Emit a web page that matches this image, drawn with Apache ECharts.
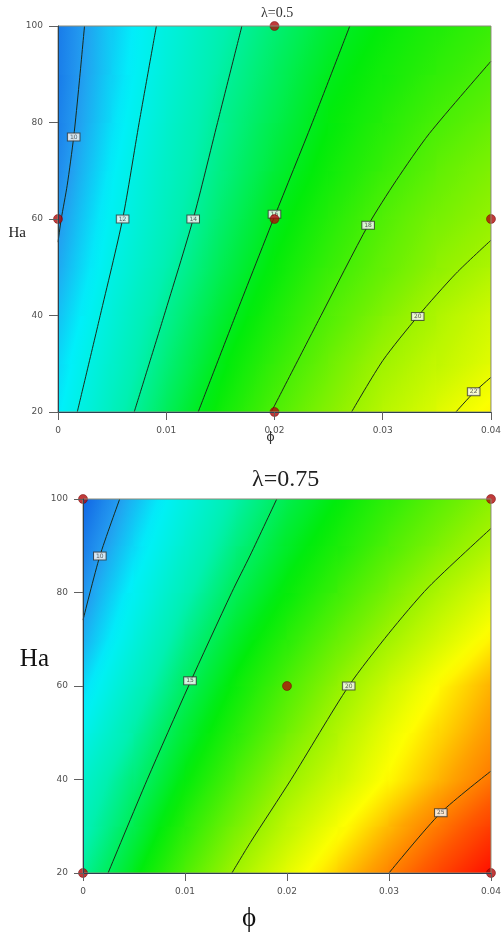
<!DOCTYPE html>
<html>
<head>
<meta charset="utf-8">
<script src="https://cdn.jsdelivr.net/npm/echarts@6/dist/echarts.min.js"></script>
<style>
  html, body { margin: 0; padding: 0; background: #fff; }
  #chart { width: 504px; height: 936px; }
</style>
</head>
<body>
<div id="chart"></div>
<script>
// Response surface of Nu over nanoparticle fraction (phi) and Hartmann number (Ha)
const phiCols = [0, 0.005, 0.01, 0.015, 0.02, 0.025, 0.03, 0.035, 0.04];
const haRows = [20, 30, 40, 50, 60, 70, 80, 90, 100];
const phiTicks = [0, 0.01, 0.02, 0.03, 0.04];
const haTicks = [20, 40, 60, 80, 100];

// surface values, one row per Ha (20 -> 100), one column per phi (0 -> 0.04)
const nuLambda050 = [
  [11.3, 13.2, 15.0, 16.6, 18.1, 19.4, 20.6, 21.6, 22.7],
  [11.0, 12.8, 14.5, 16.1, 17.5, 18.8, 20.1, 20.9, 21.7],
  [10.6, 12.4, 14.1, 15.6, 16.9, 18.2, 19.3, 20.4, 21.3],
  [10.2, 12.0, 13.6, 15.1, 16.4, 17.6, 18.6, 19.6, 20.4],
  [9.9, 11.7, 13.2, 14.7, 16.0, 17.1, 18.2, 19.1, 19.7],
  [9.6, 11.4, 13.0, 14.3, 15.6, 16.6, 17.6, 18.5, 19.3],
  [9.4, 11.1, 12.7, 14.1, 15.2, 16.3, 17.1, 18.0, 18.6],
  [9.3, 10.9, 12.4, 13.8, 14.9, 16.0, 16.7, 17.4, 18.1],
  [9.3, 10.8, 12.2, 13.5, 14.6, 15.6, 16.4, 17.0, 17.6]
];
const nuLambda075 = [
  [14.0, 16.0, 18.1, 20.1, 21.8, 23.4, 25.0, 26.6, 28.2],
  [13.3, 15.2, 17.2, 19.1, 20.8, 22.3, 23.8, 25.3, 26.8],
  [12.8, 14.5, 16.3, 18.1, 19.9, 21.2, 22.6, 23.9, 25.3],
  [11.8, 13.8, 15.6, 17.2, 18.9, 20.5, 22.0, 23.3, 24.5],
  [11.0, 13.0, 14.9, 16.5, 18.1, 19.7, 21.2, 22.6, 24.0],
  [10.3, 12.2, 14.2, 15.8, 17.2, 18.7, 20.1, 21.4, 22.7],
  [9.8, 11.6, 13.4, 15.1, 16.4, 17.7, 19.1, 20.4, 21.6],
  [9.3, 11.0, 12.7, 14.4, 15.8, 16.9, 18.1, 19.3, 20.4],
  [8.8, 10.5, 12.1, 13.7, 15.2, 16.3, 17.4, 18.4, 19.5]
];

// contour levels and their traced paths [phi, Ha]
const levels050 = [10, 12, 14, 16, 18, 20, 22];
const paths050 = [
  [[0.00245, 100], [0.00195, 88], [0.00145, 77], [0.00085, 67], [0.0003, 60], [0, 55.2]],
  [[0.00909, 100], [0.0075, 80], [0.00597, 60], [0.0039, 40], [0.00178, 20]],
  [[0.01699, 100], [0.01474, 80], [0.01249, 60], [0.0098, 40], [0.00704, 20]],
  [[0.02696, 100], [0.0235, 80], [0.0200, 60.5], [0.0178, 48], [0.0164, 40], [0.01295, 20]],
  [[0.04, 92.7], [0.0343, 77.7], [0.03125, 68], [0.02865, 58.7], [0.0243, 40], [0.0197, 20]],
  [[0.04, 55.6], [0.03676, 48.7], [0.03323, 39.8], [0.03002, 30.7], [0.02712, 20]],
  [[0.04, 27.2], [0.0384, 24.0], [0.03676, 20]]
];
const labelAt050 = [[0.00145, 77], [0.00597, 60], [0.01249, 60], [0.0200, 61], [0.02865, 58.7], [0.03323, 39.8], [0.0384, 24.2]];

const levels075 = [10, 15, 20, 25];
const paths075 = [
  [[0.0036, 100], [0.00165, 87.8], [0, 74.1]],
  [[0.0190, 100], [0.0164, 88], [0.01458, 80], [0.01035, 60], [0.0063, 40], [0.00246, 20]],
  [[0.04, 93.7], [0.0339, 81.2], [0.0300, 71.3], [0.02605, 60], [0.0204, 40], [0.0164, 26.5], [0.0146, 20]],
  [[0.04, 41.8], [0.03508, 32.9], [0.0300, 20]]
];
const labelAt075 = [[0.00165, 87.8], [0.01049, 61.1], [0.02605, 60], [0.03508, 32.9]];

// design points
const design050 = [[0, 60], [0.02, 100], [0.02, 60], [0.02, 20], [0.04, 60]];
const design075 = [[0, 100], [0.04, 100], [0.02, 60], [0, 20], [0.04, 20]];

// colour ramp: blue -> cyan -> green -> yellow -> red
const rampStops = [
  [8.5, [12, 88, 226]],
  [10.0, [36, 156, 240]],
  [11.4, [0, 240, 250]],
  [13.6, [0, 240, 176]],
  [16.3, [0, 236, 10]],
  [19.8, [150, 242, 0]],
  [22.5, [255, 255, 0]],
  [24.2, [255, 165, 0]],
  [26.0, [255, 90, 0]],
  [28.3, [255, 10, 0]]
];
function ramp(v) {
  if (v <= rampStops[0][0]) return 'rgb(' + rampStops[0][1].join(',') + ')';
  for (let i = 1; i < rampStops.length; i++) {
    if (v <= rampStops[i][0]) {
      const [v0, c0] = rampStops[i - 1];
      const [v1, c1] = rampStops[i];
      const t = (v - v0) / (v1 - v0);
      const c = c0.map((x, k) => Math.round(x + (c1[k] - x) * t));
      return 'rgb(' + c.join(',') + ')';
    }
  }
  return 'rgb(' + rampStops[rampStops.length - 1][1].join(',') + ')';
}

function cellsOf(table) {
  const cells = [];
  for (let r = 0; r < haRows.length - 1; r++) {
    for (let c = 0; c < phiCols.length - 1; c++) {
      cells.push([phiCols[c], haRows[r], phiCols[c + 1], haRows[r + 1],
        table[r][c], table[r][c + 1], table[r + 1][c], table[r + 1][c + 1]]);
    }
  }
  return cells;
}

// each cell is painted with a linear gradient running along the local slope of the surface
function renderCell(params, api) {
  const a = api.coord([api.value(0), api.value(1)]);
  const b = api.coord([api.value(2), api.value(3)]);
  const v00 = api.value(4), v10 = api.value(5), v01 = api.value(6), v11 = api.value(7);
  const dx = b[0] - a[0], dy = b[1] - a[1];
  const gx = ((v10 - v00) + (v11 - v01)) / 2 / dx;
  const gy = ((v01 - v00) + (v11 - v10)) / 2 / dy;
  const g = Math.hypot(gx, gy) || 1e-9;
  const ux = gx / g, uy = gy / g;
  const cx = (a[0] + b[0]) / 2, cy = (a[1] + b[1]) / 2;
  const vc = (v00 + v10 + v01 + v11) / 4;
  const L = Math.hypot(dx, dy) / 2;
  const stops = [];
  for (let k = 0; k <= 8; k++) {
    const t = k / 8;
    stops.push({ offset: t, color: ramp(vc + g * L * (2 * t - 1)) });
  }
  const x = Math.min(a[0], b[0]), y = Math.min(a[1], b[1]);
  return {
    type: 'rect',
    shape: { x: x - 0.5, y: y - 0.5, width: Math.abs(dx) + 1, height: Math.abs(dy) + 1 },
    style: {
      fill: new echarts.graphic.LinearGradient(cx - ux * L, cy - uy * L, cx + ux * L, cy + uy * L, stops, true)
    }
  };
}

const tickFont = { fontFamily: 'DejaVu Sans', fontSize: 9, color: '#505050' };

function xAxisFor(gi, nameStyle, nameGap) {
  return {
    gridIndex: gi, type: 'value', min: phiTicks[0], max: phiTicks[phiTicks.length - 1], interval: 0.01,
    z: 10,
    axisLine: { show: true, lineStyle: { color: '#2d4052', width: 1 } },
    axisTick: { show: true, length: 8, lineStyle: { color: '#606060' } },
    axisLabel: Object.assign({ margin: 14 }, tickFont),
    splitLine: { show: false },
    name: 'ϕ', nameLocation: 'middle', nameGap: nameGap, nameMoveOverlap: false, nameTextStyle: nameStyle
  };
}
function yAxisFor(gi, nameStyle, nameGap) {
  return {
    gridIndex: gi, type: 'value', min: haTicks[0], max: haTicks[haTicks.length - 1], interval: 20,
    z: 10,
    axisLine: { show: true, lineStyle: { color: '#2d4052', width: 1 } },
    axisTick: { show: true, length: 9, lineStyle: { color: '#606060' } },
    axisLabel: Object.assign({ margin: 15 }, tickFont),
    splitLine: { show: false },
    name: 'Ha', nameLocation: 'middle', nameRotate: 0, nameGap: nameGap, nameMoveOverlap: false,
    nameTextStyle: nameStyle
  };
}

function panelSeries(gi, table, levels, paths, labelAt, design) {
  const list = [];
  list.push({
    type: 'custom', xAxisIndex: gi, yAxisIndex: gi, z: 1, silent: true, clip: true,
    encode: { x: [0, 2], y: [1, 3] },
    data: cellsOf(table), renderItem: renderCell
  });
  paths.forEach((p, i) => {
    list.push({
      type: 'line', name: 'Nu = ' + levels[i], xAxisIndex: gi, yAxisIndex: gi, z: 3,
      data: p, smooth: 0.25, showSymbol: false, symbol: 'none', clip: true, silent: true,
      lineStyle: { color: '#1a2a1a', width: 1 }
    });
  });
  list.push({
    type: 'scatter', xAxisIndex: gi, yAxisIndex: gi, z: 4, silent: true,
    data: labelAt.map((p, i) => [p[0], p[1], levels[i]]),
    symbolSize: 1, itemStyle: { color: 'rgba(0,0,0,0)' },
    label: {
      show: true, position: 'inside', formatter: (q) => String(q.value[2]),
      fontSize: 6, fontFamily: 'DejaVu Sans', color: '#333',
      backgroundColor: '#fff', borderColor: '#3a3a3a', borderWidth: 1, padding: [1, 2, 0, 2]
    },
    labelLayout: { hideOverlap: false }
  });
  list.push({
    type: 'scatter', xAxisIndex: gi, yAxisIndex: gi, z: 5, silent: true, clip: false,
    data: design, symbol: 'circle', symbolSize: 9,
    itemStyle: { color: '#b00a0a', borderColor: '#700000', borderWidth: 0.6 }
  });
  return list;
}

const chart = echarts.init(document.getElementById('chart'), null, { renderer: 'canvas' });
chart.setOption({
  animation: false,
  backgroundColor: '#fff',
  title: [
    { text: 'λ=0.5', left: 256, top: 1,
      textStyle: { fontFamily: 'Liberation Serif', fontSize: 14, fontWeight: 'normal', color: '#333' } },
    { text: 'λ=0.75', left: 247, top: 463,
      textStyle: { fontFamily: 'Liberation Serif', fontSize: 24, fontWeight: 'normal', color: '#222' } }
  ],
  grid: [
    { left: 58, top: 26, width: 436, height: 386, show: true, z: 10,
      borderColor: '#8a8a78', borderWidth: 1, backgroundColor: 'transparent' },
    { left: 83, top: 499, width: 412, height: 374, show: true, z: 10,
      borderColor: '#8a8a78', borderWidth: 1, backgroundColor: 'transparent' }
  ],
  xAxis: [
    xAxisFor(0, { fontFamily: 'DejaVu Sans', fontSize: 13, color: '#333', padding: [0, 8, 0, 0] }, 19),
    xAxisFor(1, { fontFamily: 'Liberation Serif', fontSize: 27, color: '#111', padding: [0, 76, 0, 0] }, 32)
  ],
  yAxis: [
    yAxisFor(0, { fontFamily: 'Liberation Serif', fontSize: 15, color: '#222',
      verticalAlign: 'top', lineHeight: 28 }, 32),
    yAxisFor(1, { fontFamily: 'Liberation Serif', fontSize: 25, color: '#111',
      verticalAlign: 'bottom', lineHeight: 54 }, 34)
  ],
  series: [].concat(
    panelSeries(0, nuLambda050, levels050, paths050, labelAt050, design050),
    panelSeries(1, nuLambda075, levels075, paths075, labelAt075, design075)
  )
});
</script>
</body>
</html>
